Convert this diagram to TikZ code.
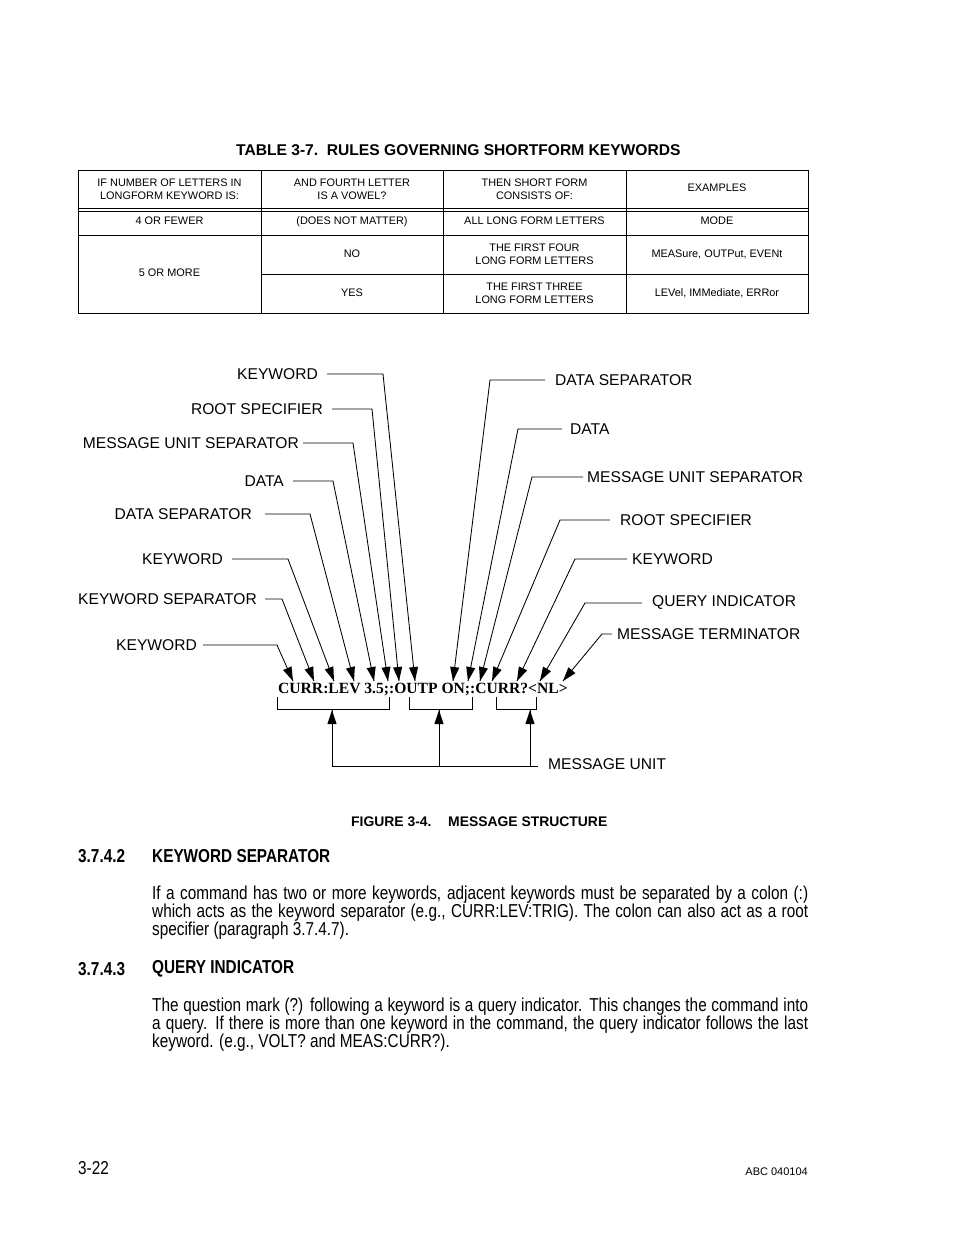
\documentclass[tikz,border=0pt]{standalone}
\usepackage{fontspec}
\setmainfont{Liberation Sans}
\newfontfamily\narrowfont[FakeStretch=0.82]{Liberation Sans}
\newfontfamily\timesfont{Liberation Serif}
\usetikzlibrary{calc}
\newcommand\tipat[2]{%
  \coordinate (tmpb) at ($(#1)!14pt!(#2)$);
  \fill (#1) -- ($(tmpb)!4.6pt!90:(#1)$) -- ($(tmpb)!4.6pt!-90:(#1)$) -- cycle;}
\begin{document}
\begin{tikzpicture}[x=1pt,y=1pt,
  lbl/.style={inner sep=0pt,font=\fontsize{15.6}{18}\selectfont},
  cell/.style={inner sep=0pt,align=center,font=\fontsize{10.9}{13}\selectfont},
  ln/.style={line width=0.85pt},
  grid/.style={line width=0.9pt},
  body/.style={inner sep=0pt,anchor=west,font=\narrowfont\fontsize{18.7}{18}\selectfont},
  head/.style={inner sep=0pt,anchor=west,font=\narrowfont\bfseries\fontsize{18.7}{18}\selectfont},
  msg/.style={inner sep=0pt,font=\timesfont\bfseries\fontsize{15.6}{18}\selectfont},
  figcap/.style={inner sep=0pt,anchor=west,font=\bfseries\fontsize{13.9}{16}\selectfont}
]
\fill[white] (0,0) rectangle (954,-1235);
\useasboundingbox (0,0) rectangle (954,-1235);

% ---------- table ----------
\node[inner sep=0pt,anchor=west,font=\bfseries\fontsize{15.6}{18}\selectfont] (ttl) at (236,-150) {TABLE 3-7.\ \ RULES GOVERNING SHORTFORM KEYWORDS};
\draw[grid] (78,-170) rectangle (808,-313);
\draw[grid] (78,-208) -- (808,-208);
\draw[grid] (78,-211) -- (808,-211);
\draw[grid] (78,-235) -- (808,-235);
\draw[grid] (261,-274) -- (808,-274);
\draw[grid] (261,-170) -- (261,-313);
\draw[grid] (443,-170) -- (443,-313);
\draw[grid] (626,-170) -- (626,-313);

\node[cell] (h1) at (169.5,-189) {IF NUMBER OF LETTERS IN\\LONGFORM KEYWORD IS:};
\node[cell] (h2) at (352,-189) {AND FOURTH LETTER\\IS A VOWEL?};
\node[cell] (h3) at (534.5,-189) {THEN SHORT FORM\\CONSISTS OF:};
\node[cell] (h4) at (717,-188) {EXAMPLES};
\node[cell] (c11) at (169.5,-221) {4 OR FEWER};
\node[cell] (c12) at (352,-222) {(DOES NOT MATTER)};
\node[cell] (c13) at (534.5,-221) {ALL LONG FORM LETTERS};
\node[cell] (c14) at (717,-221) {MODE};
\node[cell] (c21) at (169.5,-273) {5 OR MORE};
\node[cell] (c22) at (352,-254) {NO};
\node[cell] (c23) at (534.5,-254) {THE FIRST FOUR\\LONG FORM LETTERS};
\node[cell] (c24) at (717,-254) {MEASure, OUTPut, EVENt};
\node[cell] (c32) at (352,-293) {YES};
\node[cell] (c33) at (534.5,-293) {THE FIRST THREE\\LONG FORM LETTERS};
\node[cell] (c34) at (717,-293) {LEVel, IMMediate, ERRor};

% ---------- message ----------
\node[msg,anchor=base west] (m) at (278,-693) {CURR:LEV 3.5;:OUTP ON;:CURR?<NL>};

% left labels
\node[lbl,anchor=east] (l1) at (318,-374) {KEYWORD};
\node[lbl,anchor=east] (l2) at (323,-409) {ROOT SPECIFIER};
\node[lbl,anchor=east] (l3) at (299,-443) {MESSAGE UNIT SEPARATOR};
\node[lbl,anchor=east] (l4) at (284,-481) {DATA};
\node[lbl,anchor=east] (l5) at (252,-514) {DATA SEPARATOR};
\node[lbl,anchor=east] (l6) at (223,-559) {KEYWORD};
\node[lbl,anchor=east] (l7) at (257,-599) {KEYWORD SEPARATOR};
\node[lbl,anchor=east] (l8) at (197,-645) {KEYWORD};

\coordinate (cl1) at (l1.east -| 383,0);
\coordinate (cl2) at (l2.east -| 372,0);
\coordinate (cl3) at (l3.east -| 353,0);
\coordinate (cl4) at (l4.east -| 333,0);
\coordinate (cl5) at (l5.east -| 310,0);
\coordinate (cl6) at (l6.east -| 288,0);
\coordinate (cl7) at (l7.east -| 282,0);
\coordinate (cl8) at (l8.east -| 277,0);
\coordinate (tl1) at (415,-681);
\coordinate (tl2) at (399,-681);
\coordinate (tl3) at (388,-681);
\coordinate (tl4) at (374,-681);
\coordinate (tl5) at (354,-681);
\coordinate (tl6) at (334,-681);
\coordinate (tl7) at (314,-681);
\coordinate (tl8) at (293,-681);

\draw[ln] ([xshift=9pt]l1.east) -- (cl1) -- (tl1); \tipat{tl1}{cl1}
\draw[ln] ([xshift=9pt]l2.east) -- (cl2) -- (tl2); \tipat{tl2}{cl2}
\draw[ln] ([xshift=4pt]l3.east) -- (cl3) -- (tl3); \tipat{tl3}{cl3}
\draw[ln] ([xshift=9pt]l4.east) -- (cl4) -- (tl4); \tipat{tl4}{cl4}
\draw[ln] ([xshift=13pt]l5.east) -- (cl5) -- (tl5); \tipat{tl5}{cl5}
\draw[ln] ([xshift=9pt]l6.east) -- (cl6) -- (tl6); \tipat{tl6}{cl6}
\draw[ln] ([xshift=8pt]l7.east) -- (cl7) -- (tl7); \tipat{tl7}{cl7}
\draw[ln] ([xshift=6pt]l8.east) -- (cl8) -- (tl8); \tipat{tl8}{cl8}

% right labels
\node[lbl,anchor=west] (r1) at (555,-380) {DATA SEPARATOR};
\node[lbl,anchor=west] (r2) at (570,-429) {DATA};
\node[lbl,anchor=west] (r3) at (587,-477) {MESSAGE UNIT SEPARATOR};
\node[lbl,anchor=west] (r4) at (620,-520) {ROOT SPECIFIER};
\node[lbl,anchor=west] (r5) at (632,-559) {KEYWORD};
\node[lbl,anchor=west] (r6) at (652,-603) {QUERY INDICATOR};
\node[lbl,anchor=west] (r7) at (617,-634) {MESSAGE TERMINATOR};

\coordinate (cr1) at (r1.west -| 490,0);
\coordinate (cr2) at (r2.west -| 518,0);
\coordinate (cr3) at (r3.west -| 532,0);
\coordinate (cr4) at (r4.west -| 560,0);
\coordinate (cr5) at (r5.west -| 575,0);
\coordinate (cr6) at (r6.west -| 585,0);
\coordinate (cr7) at (r7.west -| 602,0);
\coordinate (tr1) at (453,-681);
\coordinate (tr2) at (468,-681);
\coordinate (tr3) at (480,-681);
\coordinate (tr4) at (492,-681);
\coordinate (tr5) at (517,-681);
\coordinate (tr6) at (540,-681);
\coordinate (tr7) at (563,-681);

\draw[ln] ([xshift=-10pt]r1.west) -- (cr1) -- (tr1); \tipat{tr1}{cr1}
\draw[ln] ([xshift=-8pt]r2.west) -- (cr2) -- (tr2); \tipat{tr2}{cr2}
\draw[ln] ([xshift=-4pt]r3.west) -- (cr3) -- (tr3); \tipat{tr3}{cr3}
\draw[ln] ([xshift=-10pt]r4.west) -- (cr4) -- (tr4); \tipat{tr4}{cr4}
\draw[ln] ([xshift=-5pt]r5.west) -- (cr5) -- (tr5); \tipat{tr5}{cr5}
\draw[ln] ([xshift=-10pt]r6.west) -- (cr6) -- (tr6); \tipat{tr6}{cr6}
\draw[ln] ([xshift=-5pt]r7.west) -- (cr7) -- (tr7); \tipat{tr7}{cr7}

% brackets
\draw[ln] (277,-697) -- (277,-709) -- (389,-709) -- (389,-697);
\draw[ln] (409,-697) -- (409,-709) -- (472,-709) -- (472,-697);
\draw[ln] (496,-697) -- (496,-709) -- (536,-709) -- (536,-697);
\coordinate (u1) at (332,-710);
\coordinate (u2) at (439,-710);
\coordinate (u3) at (530,-710);
\coordinate (d1) at (332,-766);
\coordinate (d2) at (439,-766);
\coordinate (d3) at (530,-766);
\node[lbl,anchor=west] (mu) at (548,-764) {MESSAGE UNIT};
\draw[ln] (d1) -- ([xshift=-10pt]mu.west |- d1);
\draw[ln] (d1) -- (u1); \tipat{u1}{d1}
\draw[ln] (d2) -- (u2); \tipat{u2}{d2}
\draw[ln] (d3) -- (u3); \tipat{u3}{d3}

% caption
\node[figcap] (fc1) at (351,-822) {FIGURE 3-4.};
\node[figcap] (fc2) at (448,-822) {MESSAGE STRUCTURE};

% ---------- text ----------
\node[head] (s1n) at (78,-856) {3.7.4.2};
\node[head] (s1t) at (152,-856) {KEYWORD SEPARATOR};
\node[body] (p11) at (152,-895) {\makebox[656pt][s]{If a command has two or more keywords, adjacent keywords must be separated by a colon (:)}};
\node[body] (p12) at (152,-913) {\makebox[656pt][s]{which acts as the keyword separator (e.g., CURR:LEV:TRIG). The colon can also act as a root}};
\node[body] (p13) at (152,-931) {specifier (paragraph 3.7.4.7).};

\node[head] (s2n) at (78,-969) {3.7.4.3};
\node[head] (s2t) at (152,-969) {QUERY INDICATOR};
\node[body] (p21) at (152,-1007) {\makebox[656pt][s]{The question mark (?) following a keyword is a query indicator. This changes the command into}};
\node[body] (p22) at (152,-1025) {\makebox[656pt][s]{a query. If there is more than one keyword in the command, the query indicator follows the last}};
\node[body] (p23) at (152,-1043) {keyword. (e.g., VOLT? and MEAS:CURR?).};

% footer
\node[body] (pg) at (78,-1168) {3-22};
\node[inner sep=0pt,anchor=east,font=\fontsize{11}{13}\selectfont] (doc) at (808,-1172) {ABC 040104};
\end{tikzpicture}
\end{document}
